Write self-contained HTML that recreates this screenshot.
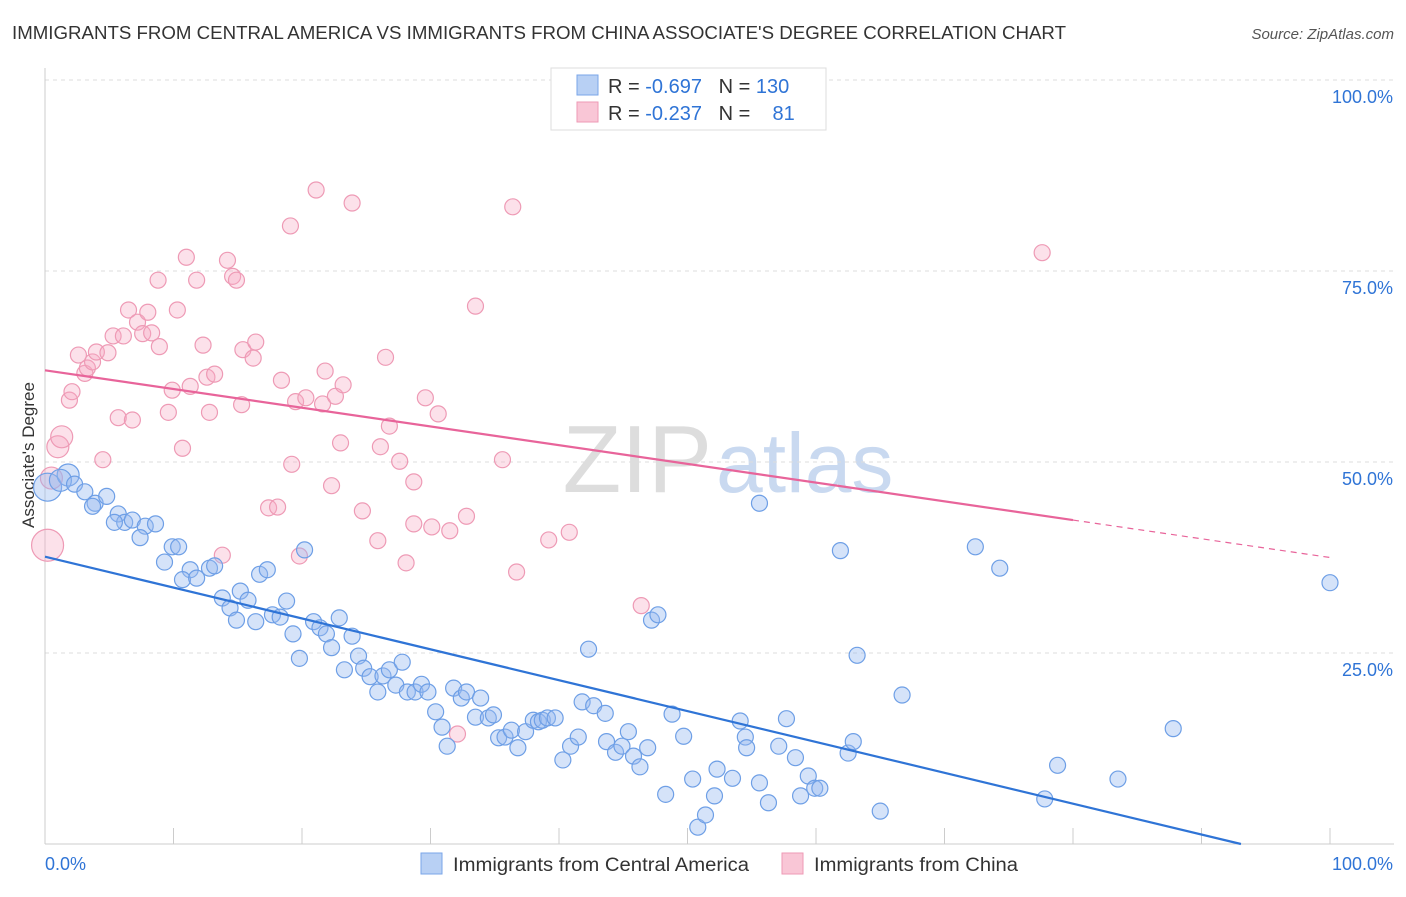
<!DOCTYPE html>
<html><head><meta charset="utf-8"><style>
body{margin:0;background:#fff;font-family:"Liberation Sans",sans-serif;}
svg text{font-family:"Liberation Sans",sans-serif;}
</style></head><body>
<svg id="chart" width="1406" height="892">
<text x="12" y="39" font-size="18" fill="#333" textLength="1054" lengthAdjust="spacingAndGlyphs">IMMIGRANTS FROM CENTRAL AMERICA VS IMMIGRANTS FROM CHINA ASSOCIATE'S DEGREE CORRELATION CHART</text>
<text x="1394" y="39" font-size="15" fill="#555" font-style="italic" text-anchor="end">Source: ZipAtlas.com</text>
<text x="712" y="492" font-size="96" fill="#ddd" text-anchor="end" font-family="Liberation Serif">ZIP</text>
<text x="716" y="492" font-size="84" fill="#c9d9f0">atlas</text>
<text transform="translate(34,455) rotate(-90)" font-size="17" fill="#333" text-anchor="middle">Associate's Degree</text>
<g id="grid"></g><g id="pts"></g><g id="lines"></g>
<g>
<rect x="551" y="68" width="275" height="62" fill="#fff" stroke="#ddd"/>
<rect x="577" y="75" width="21" height="20" fill="#b8d0f4" stroke="#7aa6e8"/>
<rect x="577" y="102" width="21" height="20" fill="#f9c6d6" stroke="#ee9ab5"/>
<text x="608" y="93" font-size="20" fill="#333" xml:space="preserve">R = <tspan fill="#2f74d6">-0.697</tspan>   N = <tspan fill="#2f74d6">130</tspan></text>
<text x="608" y="120" font-size="20" fill="#333" xml:space="preserve">R = <tspan fill="#2f74d6">-0.237</tspan>   N =    <tspan fill="#2f74d6">81</tspan></text>
</g>
<g>
<rect x="421" y="853" width="21" height="21" fill="#b8d0f4" stroke="#7aa6e8"/>
<text x="453" y="871" font-size="19" fill="#333" textLength="296" lengthAdjust="spacingAndGlyphs">Immigrants from Central America</text>
<rect x="782" y="853" width="21" height="21" fill="#f9c6d6" stroke="#ee9ab5"/>
<text x="814" y="871" font-size="19" fill="#333" textLength="204" lengthAdjust="spacingAndGlyphs">Immigrants from China</text>
</g>
</svg>
<script>
const yTicks=[25,50,75,100];
const yTickLabels=["25.0%","50.0%","75.0%","100.0%"];
const xTicks=[0,10,20,30,40,50,60,70,80,90,100];
const blueX=[0.2,1.8,1.2,2.3,3.1,3.9,4.8,3.7,5.7,6.2,6.8,7.8,8.6,7.4,5.4,9.9,10.4,9.3,11.3,10.7,11.8,12.8,13.2,13.8,14.4,14.9,15.2,15.8,16.4,16.7,17.3,17.7,18.3,18.8,19.3,19.8,20.2,20.9,21.4,21.9,22.3,22.9,23.3,23.9,24.4,24.8,25.3,25.9,26.3,26.8,27.3,27.8,28.2,28.8,29.3,29.8,30.4,30.9,31.3,31.8,32.4,32.8,33.5,33.9,34.5,34.9,35.3,35.8,36.3,36.8,37.4,38.0,38.4,38.7,39.1,39.7,40.3,40.9,41.5,41.8,42.3,42.7,43.6,43.7,44.4,44.9,45.4,45.8,46.3,46.9,47.2,47.7,48.3,48.8,49.7,50.4,50.8,51.4,52.1,52.3,53.5,54.1,54.5,54.6,55.6,55.6,56.3,57.1,57.7,58.4,59.4,59.9,58.8,61.9,62.5,62.9,63.2,65.0,66.7,72.4,74.3,77.8,78.8,83.5,87.8,100.0,60.3];
const blueY=[46.7,48.3,47.6,47.1,46.1,44.6,45.5,44.2,43.2,42.1,42.4,41.6,41.9,40.1,42.1,38.9,38.9,36.9,35.9,34.6,34.8,36.1,36.4,32.2,30.9,29.3,33.1,31.9,29.1,35.3,35.9,30.0,29.7,31.8,27.5,24.3,38.5,29.1,28.3,27.5,25.7,29.6,22.8,27.2,24.6,23.0,21.9,19.9,22.0,22.8,20.8,23.8,19.9,19.9,20.9,19.9,17.3,15.3,12.8,20.4,19.1,19.9,16.6,19.1,16.5,16.9,13.9,14.0,14.9,12.6,14.7,16.2,16.0,16.2,16.5,16.5,11.0,12.8,14.0,18.6,25.5,18.1,17.1,13.4,12.0,12.8,14.7,11.5,10.1,12.6,29.3,30.0,6.5,17.0,14.1,8.5,2.2,3.8,6.3,9.8,8.6,16.1,14.0,12.6,8.0,44.6,5.4,12.8,16.4,11.3,8.9,7.3,6.3,38.4,11.9,13.4,24.7,4.3,19.5,38.9,36.1,5.9,10.3,8.5,15.1,34.2,7.3];
const pinkX=[0.5,1.0,1.3,0.2,1.9,2.1,2.6,3.1,3.3,3.7,4.0,4.5,4.9,5.3,5.7,6.1,6.5,6.8,7.2,7.6,8.0,8.3,8.8,8.9,9.6,9.9,10.3,10.7,11.0,11.3,11.8,12.3,12.6,12.8,13.2,13.8,14.2,14.6,14.9,15.3,15.4,16.2,16.4,17.4,18.1,18.4,19.1,19.2,19.5,19.8,20.3,21.1,21.6,21.8,22.3,22.6,23.0,23.2,23.9,24.7,25.9,26.1,26.5,26.8,27.6,28.1,28.7,28.7,29.6,30.1,30.6,31.5,32.1,32.8,33.5,35.6,36.4,36.7,39.2,40.8,46.4,77.6];
const pinkY=[47.9,52.0,53.3,39.1,58.1,59.2,64.0,61.6,62.3,63.1,64.4,50.3,64.3,66.5,55.8,66.5,69.9,55.5,68.3,66.8,69.6,66.9,73.8,65.1,56.5,59.4,69.9,51.8,76.8,59.9,73.8,65.3,61.1,56.5,61.5,37.8,76.4,74.3,73.8,57.5,64.7,63.6,65.7,44.0,44.1,60.7,80.9,49.7,57.9,37.7,58.4,85.6,57.6,61.9,46.9,58.6,52.5,60.1,83.9,43.6,39.7,52.0,63.7,54.7,50.1,36.8,47.4,41.9,58.4,41.5,56.3,41.0,14.4,42.9,70.4,50.3,83.4,35.6,39.8,40.8,31.2,77.4];
const blueTrend=[37.6,-0.404];
const pinkTrend=[62.0,-0.245];
const NS='http://www.w3.org/2000/svg';
const X=v=>45+v*12.85, Y=v=>844-v*7.64;
function mk(tag,attrs,parent){const e=document.createElementNS(NS,tag);for(const k in attrs)e.setAttribute(k,attrs[k]);parent.appendChild(e);return e;}
const grid=document.getElementById('grid'),pts=document.getElementById('pts'),lines=document.getElementById('lines');
yTicks.forEach((t,i)=>{
 const l=mk('line',{x1:45,x2:1394,y1:Y(t),y2:Y(t),stroke:'#ddd','stroke-dasharray':'4,4'},grid);
 
 
 const tx=mk('text',{x:1393,y:Y(t)+23,'font-size':18,fill:'#2f74d6','text-anchor':'end'},grid);tx.textContent=yTickLabels[i];
 
 
});
const ax=mk('line',{x1:45,x2:1394,y1:844,y2:844,stroke:'#ccc'},grid);


const yax=mk('line',{x1:45,x2:45,y1:68,y2:844,stroke:'#ccc'},grid);


xTicks.forEach(t=>{const l=mk('line',{x1:X(t),x2:X(t),y1:828,y2:844,stroke:'#ccc'},grid);
 
 });
[[0,'0.0%','start',45],[100,'100.0%','end',1393]].forEach(d=>{const t=mk('text',{x:d[3],y:870,'font-size':18,fill:'#2f74d6','text-anchor':d[2]},grid);t.textContent=d[1];
 
 });
function dot(x,y,r,fill,stroke,name){const c=mk('circle',{cx:X(x),cy:Y(y),r:r,fill:fill,stroke:stroke,'stroke-width':1.2},pts);
 
 }
pinkX.forEach((x,i)=>dot(x,pinkY[i],i===3?16:(i<3?11:8),'rgba(245,170,195,0.35)','#ee9ab5','china-point'));
blueX.forEach((x,i)=>dot(x,blueY[i],i===0?14:(i<3?11:8),'rgba(150,185,240,0.4)','#6e9fe6','central-america-point'));
const bEnd=-blueTrend[0]/blueTrend[1];
const bl=mk('line',{x1:X(0),y1:Y(blueTrend[0]),x2:X(bEnd),y2:Y(0),stroke:'#2f74d6','stroke-width':2.2},lines);


const pl=mk('line',{x1:X(0),y1:Y(pinkTrend[0]),x2:X(80),y2:Y(pinkTrend[0]+80*pinkTrend[1]),stroke:'#e8649a','stroke-width':2.2},lines);


const pd=mk('line',{x1:X(80),y1:Y(pinkTrend[0]+80*pinkTrend[1]),x2:X(100),y2:Y(pinkTrend[0]+100*pinkTrend[1]),stroke:'#e8649a','stroke-width':1.2,'stroke-dasharray':'6,5'},lines);


</script>
</body></html>
